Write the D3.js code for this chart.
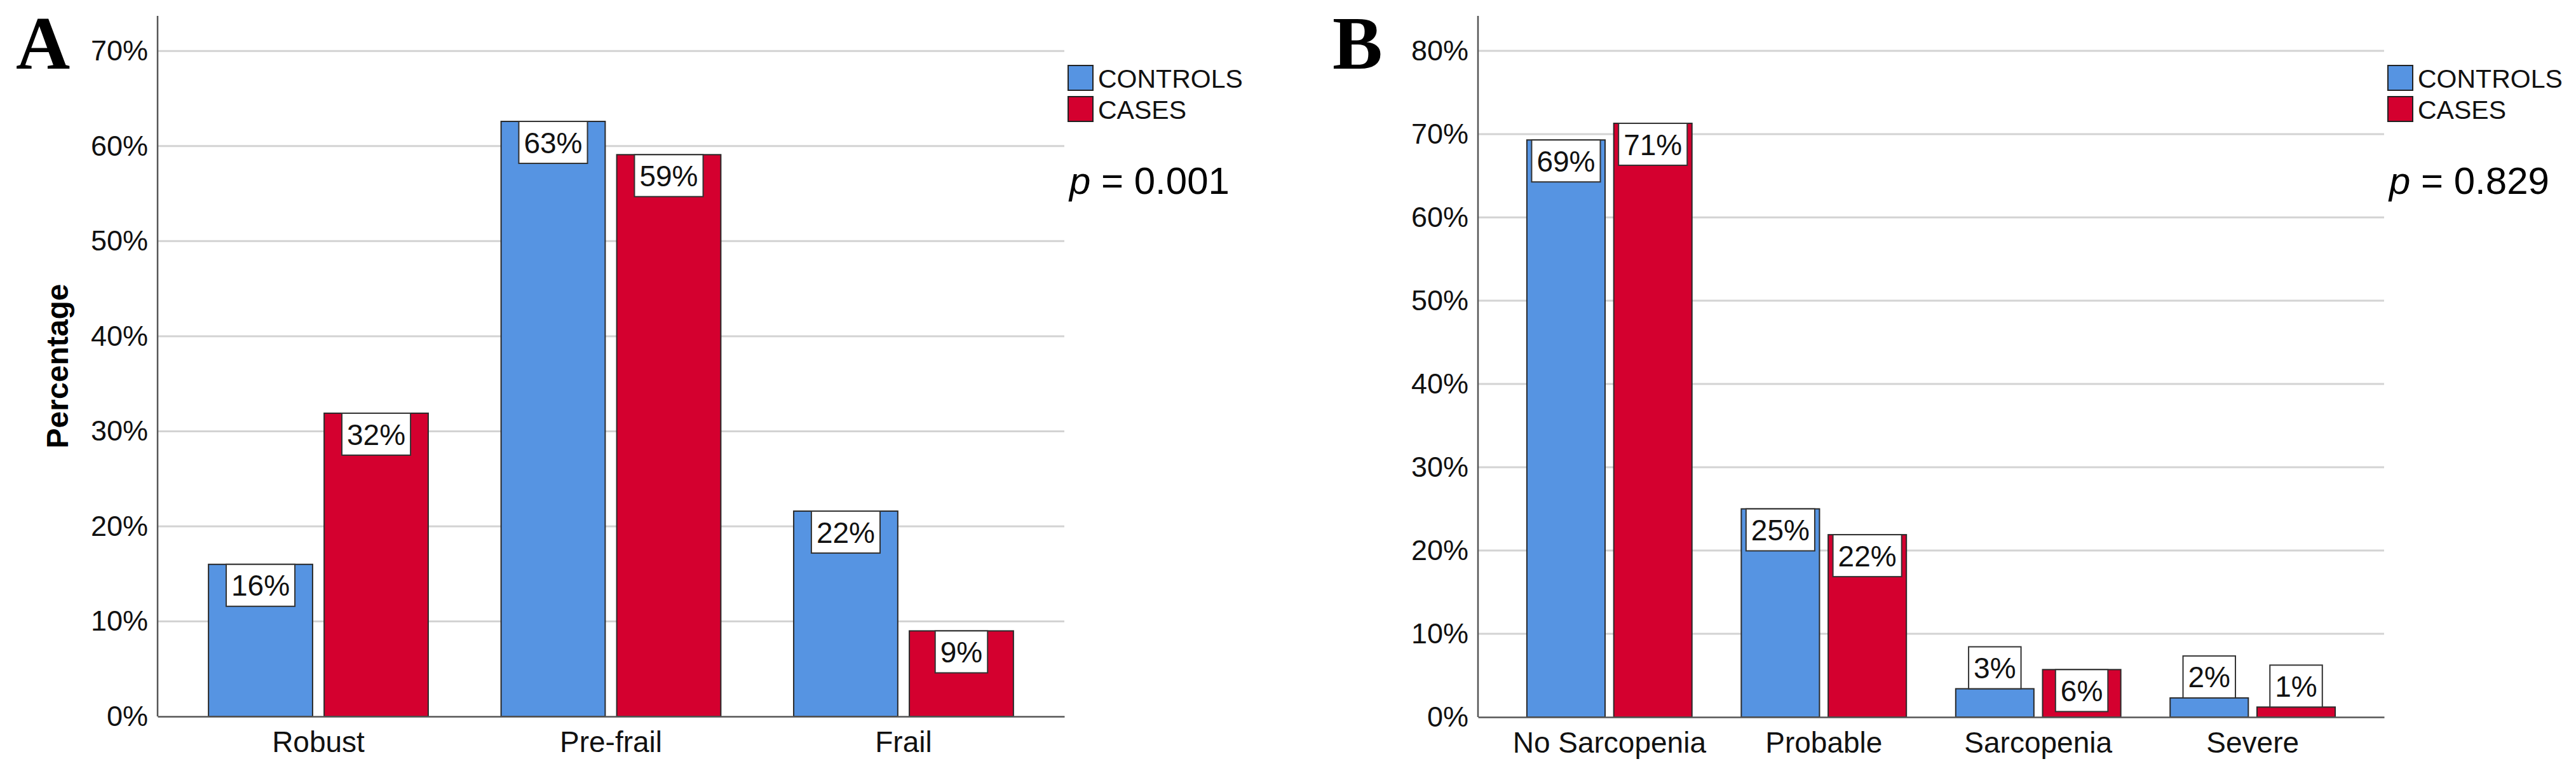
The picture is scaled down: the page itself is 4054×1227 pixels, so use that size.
<!DOCTYPE html>
<html>
<head>
<meta charset="utf-8">
<script src="https://cdn.jsdelivr.net/npm/d3@7"></script>
<style>
  body { margin: 0; background: #fff; }
  svg { display: block; font-family: 'Liberation Sans', Arial, sans-serif; }
  .domain { stroke: #555; stroke-width: 2.5; }
</style>
</head>
<body>
<svg id="chart" width="4054" height="1227"></svg>
<script>
// series shared by both panels
const seriesNames = ['CONTROLS', 'CASES']
const seriesColors = ['#5694e2', '#d4002f']

// panel A: frailty
const frailtyCategories = ['Robust', 'Pre-frail', 'Frail']
const frailtyControls = [16.0, 62.6, 21.6]
const frailtyCases = [31.9, 59.1, 9.0]
const frailtyTicks = [0, 10, 20, 30, 40, 50, 60, 70]
const frailtyP = '0.001'

// panel B: sarcopenia
const sarcopeniaCategories = ['No Sarcopenia', 'Probable', 'Sarcopenia', 'Severe']
const sarcopeniaControls = [69.3, 25.0, 3.4, 2.3]
const sarcopeniaCases = [71.3, 21.9, 5.7, 1.2]
const sarcopeniaTicks = [0, 10, 20, 30, 40, 50, 60, 70, 80]
const sarcopeniaP = '0.829'

let svg = d3.select('#chart')

function drawPanel (cfg) {
  let g = svg.append('g')

  let y = d3.scaleLinear().domain([0, cfg.yMax]).range([cfg.bottom, cfg.top])
  let x0 = d3.scaleBand()
    .domain(cfg.categories)
    .range([cfg.left, cfg.right])
    .paddingInner(cfg.padInner)
    .paddingOuter(cfg.padOuter)
  let x1 = d3.scaleBand()
    .domain(seriesNames)
    .range([0, x0.bandwidth()])
    .paddingInner(0.1)

  // gridlines
  g.selectAll('.grid')
    .data(cfg.ticks.filter(function (d) { return d > 0 }))
    .enter().append('line')
    .attr('x1', cfg.left)
    .attr('x2', cfg.right)
    .attr('y1', function (d) { return y(d) })
    .attr('y2', function (d) { return y(d) })
    .attr('stroke', '#d3d3d3')
    .attr('stroke-width', 3)

  // panel letter
  g.append('text')
    .attr('x', cfg.letterX)
    .attr('y', 108)
    .style('font-family', "'Liberation Serif', 'Times New Roman', serif")
    .style('font-weight', 'bold')
    .style('font-size', '118px')
    .text(cfg.letter)

  let rows = cfg.categories.map(function (c, i) {
    return { cat: c, values: [cfg.controls[i], cfg.cases[i]] }
  })

  let group = g.selectAll('.grp')
    .data(rows)
    .enter().append('g')
    .attr('transform', function (d) { return 'translate(' + x0(d.cat) + ',0)' })

  let bar = group.selectAll('.bar')
    .data(function (d) {
      return d.values.map(function (v, i) { return { name: seriesNames[i], value: v, idx: i } })
    })
    .enter().append('g')

  bar.append('rect')
    .attr('x', function (d) { return x1(d.name) })
    .attr('y', function (d) { return y(d.value) })
    .attr('width', x1.bandwidth())
    .attr('height', function (d) { return cfg.bottom - y(d.value) })
    .attr('fill', function (d) { return seriesColors[d.idx] })
    .attr('stroke', '#2a2a2a')
    .attr('stroke-width', 2)

  // value labels in white boxes
  let boxH = 66
  bar.each(function (d) {
    let sel = d3.select(this)
    let cx = x1(d.name) + x1.bandwidth() / 2
    let top = y(d.value)
    let boxTop = (cfg.bottom - top) < boxH + 4 ? top - boxH : top
    let rect = sel.append('rect')
      .attr('fill', '#fff')
      .attr('stroke', '#333')
      .attr('stroke-width', 2)
    let txt = sel.append('text')
      .attr('x', cx)
      .attr('y', boxTop + boxH / 2)
      .attr('dy', '0.36em')
      .attr('text-anchor', 'middle')
      .style('font-size', '46px')
      .attr('fill', '#111')
      .text(d3.format('.0f')(d.value) + '%')
    let w = txt.node().getComputedTextLength() + 16
    rect.attr('x', cx - w / 2)
      .attr('y', boxTop)
      .attr('width', w)
      .attr('height', boxH)
  })

  // axes
  let yAxis = g.append('g')
    .attr('transform', 'translate(' + cfg.left + ',0)')
    .call(d3.axisLeft(y)
      .tickValues(cfg.ticks)
      .tickFormat(function (d) { return d + '%' })
      .tickSize(0)
      .tickSizeOuter(0)
      .tickPadding(15))
  yAxis.selectAll('text').style('font-size', '45px').attr('fill', '#111')
  yAxis.select('.domain').attr('d', 'M0,' + cfg.top + 'V' + cfg.bottom)

  let xAxis = g.append('g')
    .attr('transform', 'translate(0,' + cfg.bottom + ')')
    .call(d3.axisBottom(x0).tickSize(0).tickSizeOuter(0).tickPadding(23))
  xAxis.selectAll('text').style('font-size', '46px').attr('fill', '#111')
  xAxis.select('.domain').attr('stroke', '#333').attr('stroke-width', 3)

  if (cfg.yTitle) {
    g.append('text')
      .attr('transform', 'translate(107,' + ((cfg.top + cfg.bottom) / 2) + ') rotate(-90)')
      .attr('text-anchor', 'middle')
      .style('font-size', '48px')
      .style('font-weight', 'bold')
      .text(cfg.yTitle)
  }

  // legend
  let legend = g.append('g')
    .attr('transform', 'translate(' + (cfg.right + 6) + ',103)')
  seriesNames.forEach(function (name, i) {
    legend.append('rect')
      .attr('x', 0)
      .attr('y', i * 49)
      .attr('width', 39)
      .attr('height', 39)
      .attr('fill', seriesColors[i])
      .attr('stroke', '#222')
      .attr('stroke-width', 2)
    legend.append('text')
      .attr('x', 47)
      .attr('y', i * 49 + 35)
      .style('font-size', '41px')
      .attr('fill', '#111')
      .text(name)
  })

  // p value
  let p = g.append('text')
    .attr('x', cfg.right + 8)
    .attr('y', 305)
    .style('font-size', '60px')
    .attr('fill', '#000')
  p.append('tspan').style('font-style', 'italic').text('p')
  p.append('tspan').text(' = ' + cfg.pValue)
}

drawPanel({
  letter: 'A',
  letterX: 25,
  categories: frailtyCategories,
  controls: frailtyControls,
  cases: frailtyCases,
  ticks: frailtyTicks,
  pValue: frailtyP,
  yTitle: 'Percentage',
  left: 248,
  right: 1675,
  top: 25,
  bottom: 1127,
  yMax: 73.7,
  padInner: 0.249,
  padOuter: 0.174
})

drawPanel({
  letter: 'B',
  letterX: 2097,
  categories: sarcopeniaCategories,
  controls: sarcopeniaControls,
  cases: sarcopeniaCases,
  ticks: sarcopeniaTicks,
  pValue: sarcopeniaP,
  yTitle: null,
  left: 2326,
  right: 3752,
  top: 25,
  bottom: 1128,
  yMax: 84.2,
  padInner: 0.23,
  padOuter: 0.228
})
</script>
</body>
</html>
